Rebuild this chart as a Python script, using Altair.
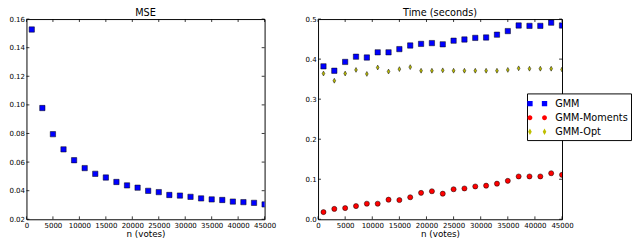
import altair as alt
import pandas as pd

# ---- data ----
n_votes = [1000, 3000, 5000, 7000, 9000, 11000, 13000, 15000, 17000, 19000, 21000, 23000,
           25000, 27000, 29000, 31000, 33000, 35000, 37000, 39000, 41000, 43000, 45000]
mse = [0.1527, 0.0978, 0.0795, 0.0689, 0.0613, 0.0558, 0.0518, 0.0492, 0.0461, 0.0437,
       0.0421, 0.0399, 0.0390, 0.0370, 0.0366, 0.0357, 0.0346, 0.0339, 0.0335, 0.0324,
       0.0320, 0.0315, 0.0304]
gmm = [0.382, 0.371, 0.393, 0.406, 0.404, 0.417, 0.417, 0.425, 0.434, 0.438, 0.440, 0.437,
       0.446, 0.449, 0.453, 0.454, 0.461, 0.470, 0.484, 0.483, 0.483, 0.491, 0.484]
gmm_moments = [0.018, 0.026, 0.028, 0.033, 0.039, 0.039, 0.049, 0.048, 0.055, 0.066, 0.070,
               0.064, 0.075, 0.077, 0.082, 0.084, 0.089, 0.096, 0.107, 0.107, 0.107, 0.115, 0.111]
gmm_opt = [0.364, 0.346, 0.364, 0.373, 0.363, 0.379, 0.369, 0.375, 0.380, 0.371, 0.371, 0.372,
           0.371, 0.371, 0.371, 0.371, 0.371, 0.373, 0.377, 0.376, 0.376, 0.376, 0.374]
series_names = ["GMM", "GMM-Moments", "GMM-Opt"]
series_colors = ["#0000ff", "#ff0000", "#bfbf00"]
x_ticks = [0, 5000, 10000, 15000, 20000, 25000, 30000, 35000, 40000, 45000]
mse_ticks = [0.02, 0.04, 0.06, 0.08, 0.10, 0.12, 0.14, 0.16]
time_ticks = [0.0, 0.1, 0.2, 0.3, 0.4, 0.5]

# ---- styling ----
W_LEFT, W_RIGHT, H = 245, 251, 206
FONT = "DejaVu Sans"
marker_shapes = ["square", "circle", "M0,-1L0.55,0L0,1L-0.55,0Z"]
marker_sizes = [30, 25, 45]
# legend symbols: two markers per entry, joined by zero-area connectors
legend_shapes = [
    "M-1.367,-0.367L-0.633,-0.367L-0.633,0L0.633,0L0.633,-0.367L1.367,-0.367"
    "L1.367,0.367L0.633,0.367L0.633,0L-0.633,0L-0.633,0.367L-1.367,0.367Z",
    "M-0.667,0A0.333,0.333 0 1,1 -1.333,0A0.333,0.333 0 1,1 -0.667,0"
    "L0.667,0A0.333,0.333 0 1,1 1.333,0A0.333,0.333 0 1,1 0.667,0L-0.667,0Z",
    "M-1,-0.447L-0.753,0L0.753,0L1,-0.447L1.247,0L1,0.447L0.753,0"
    "L-0.753,0L-1,0.447L-1.247,0Z",
]

mse_df = pd.DataFrame({"n": n_votes, "mse": mse})
time_df = pd.concat([
    pd.DataFrame({"n": n_votes, "value": vals, "series": name})
    for name, vals in zip(series_names, [gmm, gmm_moments, gmm_opt])
], ignore_index=True)

x_scale = alt.Scale(domain=[0, 45000], nice=False, zero=False)
x_axis = alt.Axis(values=x_ticks, format="d", title="n (votes)", labelFlush=False,
                  labelOverlap=False)
mse_scale = alt.Scale(domain=[0.02, 0.16], nice=False, zero=False)
mse_axis = alt.Axis(values=mse_ticks, format=".2f", title=None, labelOverlap=False,
                    labelFlush=False)
time_scale = alt.Scale(domain=[0.0, 0.5], nice=False, zero=False)
time_axis = alt.Axis(values=time_ticks, format=".1f", title=None, labelOverlap=False,
                     labelFlush=False)


def tick_layers(y_values, y_scale, y_axis, width):
    xt = pd.DataFrame({"t": x_ticks})
    yt = pd.DataFrame({"t": y_values})
    style = dict(color="black", strokeWidth=0.8)
    bottom = alt.Chart(xt).mark_rule(**style).encode(
        x=alt.X("t:Q", scale=x_scale, axis=x_axis), y=alt.value(H), y2=alt.value(H - 3))
    top = alt.Chart(xt).mark_rule(**style).encode(
        x=alt.X("t:Q", scale=x_scale, axis=x_axis), y=alt.value(0), y2=alt.value(3))
    left = alt.Chart(yt).mark_rule(**style).encode(
        y=alt.Y("t:Q", scale=y_scale, axis=y_axis), x=alt.value(0), x2=alt.value(3))
    right = alt.Chart(yt).mark_rule(**style).encode(
        y=alt.Y("t:Q", scale=y_scale, axis=y_axis), x=alt.value(width - 3),
        x2=alt.value(width))
    return [bottom, top, left, right]


title_style = dict(fontSize=10, font=FONT, fontWeight="normal", offset=-3, color="black")

# ---- left panel: MSE ----
mse_points = alt.Chart(mse_df).mark_point(
    shape="square", filled=True, size=30, color="#0000ff", stroke="black",
    strokeWidth=0.5, opacity=1, clip=True
).encode(
    x=alt.X("n:Q", scale=x_scale, axis=x_axis),
    y=alt.Y("mse:Q", scale=mse_scale, axis=mse_axis),
)
left_panel = alt.layer(
    mse_points, *tick_layers(mse_ticks, mse_scale, mse_axis, W_LEFT)
).properties(width=W_LEFT, height=H, title=alt.Title("MSE", **title_style))

# ---- right panel: Time ----
time_points = alt.Chart(time_df).mark_point(
    filled=True, stroke="black", strokeWidth=0.5, opacity=1, clip=True
).encode(
    x=alt.X("n:Q", scale=x_scale, axis=x_axis),
    y=alt.Y("value:Q", scale=time_scale, axis=time_axis),
    color=alt.Color("series:N", scale=alt.Scale(domain=series_names, range=series_colors),
                    legend=None),
    shape=alt.Shape("series:N", scale=alt.Scale(domain=series_names, range=marker_shapes),
                    legend=None),
    size=alt.Size("series:N", scale=alt.Scale(domain=series_names, range=marker_sizes),
                  legend=None),
)

legend_def = alt.Legend(
    orient="none", legendX=215, legendY=76.5, title=None, padding=3,
    strokeColor="black", fillColor="white", labelFont=FONT, labelFontSize=10,
    labelColor="black", labelOffset=11, rowPadding=1.5, symbolStrokeColor="black",
    symbolStrokeWidth=0, symbolSize=225, symbolOpacity=1, labelLimit=300,
    cornerRadius=0,
)
legend_layer = alt.Chart(time_df).transform_filter("false").mark_point(
    filled=True, size=225, opacity=1
).encode(
    x=alt.X("n:Q", scale=x_scale, axis=x_axis),
    y=alt.Y("value:Q", scale=time_scale, axis=time_axis),
    color=alt.Color("series:N", scale=alt.Scale(domain=series_names, range=series_colors),
                    legend=legend_def),
    shape=alt.Shape("series:N", scale=alt.Scale(domain=series_names, range=legend_shapes),
                    legend=legend_def),
)

right_panel = alt.layer(
    time_points, legend_layer, *tick_layers(time_ticks, time_scale, time_axis, W_RIGHT)
).resolve_scale(
    color="independent", shape="independent", size="independent"
).properties(width=W_RIGHT, height=H, title=alt.Title("Time (seconds)", **title_style))

chart = alt.hconcat(left_panel, right_panel, spacing=29).properties(
    padding={"left": 0, "top": -4, "right": 0, "bottom": 0}
).configure_view(
    stroke="black", strokeWidth=1
).configure_axis(
    labelFont=FONT, labelFontSize=7.2, labelColor="black", labelPadding=2,
    ticks=False, domain=False, grid=False,
    titleFont=FONT, titleFontSize=9, titleFontWeight="normal", titleColor="black",
    titlePadding=2,
)

chart.save("out.html", embed_options={"renderer": "svg", "actions": False})
